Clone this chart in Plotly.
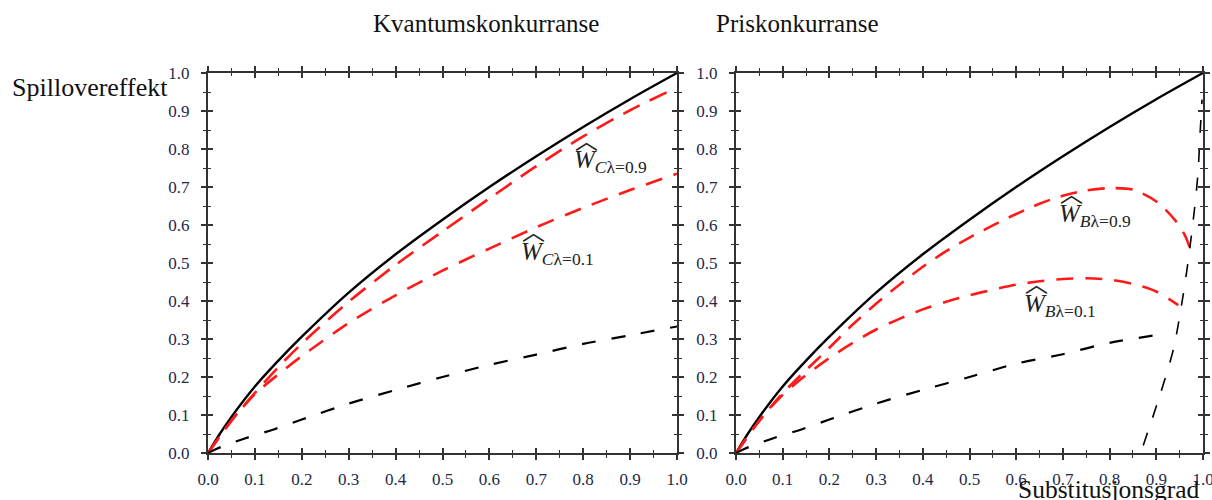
import plotly.graph_objects as go

# Substitution degree grid (x) and spillover effect (y) for each curve
full_x = [0.0, 0.025, 0.05, 0.1, 0.15, 0.2, 0.3, 0.4, 0.5, 0.6, 0.7, 0.8, 0.9, 1.0]
full_y = [0.0, 0.05, 0.095, 0.175, 0.243, 0.306, 0.422, 0.523, 0.614, 0.70, 0.781, 0.858, 0.931, 1.0]

cournot_09_x = [0.0, 0.05, 0.1, 0.15, 0.2, 0.3, 0.4, 0.5, 0.6, 0.7, 0.8, 0.9, 1.0]
cournot_09_y = [0.0, 0.085, 0.158, 0.226, 0.288, 0.398, 0.495, 0.583, 0.67, 0.755, 0.833, 0.902, 0.962]

cournot_01_x = [0.0, 0.05, 0.1, 0.15, 0.2, 0.3, 0.4, 0.5, 0.6, 0.7, 0.8, 0.9, 1.0]
cournot_01_y = [0.0, 0.085, 0.155, 0.207, 0.255, 0.342, 0.415, 0.48, 0.538, 0.594, 0.645, 0.692, 0.735]

base_c_x = [0.0, 0.02, 0.08, 0.14, 0.2, 0.3, 0.4, 0.5, 0.6, 0.7, 0.8, 0.9, 1.0]
base_c_y = [0.0, 0.012, 0.039, 0.062, 0.088, 0.13, 0.166, 0.2, 0.232, 0.259, 0.287, 0.31, 0.333]

bertrand_09_x = [0.0, 0.05, 0.1, 0.15, 0.2, 0.25, 0.3, 0.35, 0.4, 0.45, 0.5, 0.55, 0.6,
                 0.65, 0.7, 0.75, 0.8, 0.85, 0.9, 0.94, 0.96, 0.972]
bertrand_09_y = [0.0, 0.085, 0.157, 0.218, 0.277, 0.338, 0.393, 0.443, 0.49, 0.531, 0.567,
                 0.599, 0.629, 0.656, 0.677, 0.691, 0.697, 0.693, 0.662, 0.613, 0.576, 0.54]

bertrand_01_x = [0.0, 0.05, 0.1, 0.15, 0.2, 0.25, 0.3, 0.35, 0.4, 0.45, 0.5, 0.55, 0.6,
                 0.65, 0.7, 0.75, 0.8, 0.85, 0.9, 0.947]
bertrand_01_y = [0.0, 0.085, 0.153, 0.205, 0.25, 0.29, 0.325, 0.353, 0.378, 0.398, 0.415,
                 0.43, 0.443, 0.452, 0.458, 0.46, 0.456, 0.445, 0.425, 0.389]

base_b_x = [0.0, 0.02, 0.08, 0.14, 0.2, 0.3, 0.4, 0.5, 0.6, 0.7, 0.8, 0.91]
base_b_y = [0.0, 0.012, 0.039, 0.062, 0.088, 0.13, 0.166, 0.2, 0.235, 0.26, 0.29, 0.312]

steep_x = [0.872, 0.908, 0.937, 0.954, 0.968, 0.982, 0.989, 0.994, 0.998]
steep_y = [0.02, 0.153, 0.275, 0.389, 0.503, 0.644, 0.732, 0.846, 0.93]

tick_vals = [0.0, 0.1, 0.2, 0.3, 0.4, 0.5, 0.6, 0.7, 0.8, 0.9, 1.0]
tick_text = ["0.0", "0.1", "0.2", "0.3", "0.4", "0.5", "0.6", "0.7", "0.8", "0.9", "1.0"]

W, H = 1212, 500
RED = "#ff1a1a"
AX = "#333333"
SERIF = "Liberation Serif, Times New Roman, serif"
TICKFONT = dict(family=SERIF, size=17, color="#22294a")

fig = go.Figure()


def curve(x, y, axes, color, width, dash):
    fig.add_trace(go.Scatter(
        x=x, y=y, xaxis=axes[0], yaxis=axes[1], mode="lines",
        line=dict(color=color, width=width, dash=dash, shape="spline", smoothing=0.8),
        hoverinfo="skip", showlegend=False,
    ))


# Quantity competition panel
curve(full_x, full_y, ("x", "y"), "black", 2.4, "solid")
curve(cournot_09_x, cournot_09_y, ("x", "y"), RED, 2.6, "19px,11px")
curve(cournot_01_x, cournot_01_y, ("x", "y"), RED, 2.6, "17px,12px")
curve(base_c_x, base_c_y, ("x", "y"), "black", 2.2, "14px,16px")

# Price competition panel
curve(full_x, full_y, ("x2", "y2"), "black", 2.4, "solid")
curve(bertrand_09_x, bertrand_09_y, ("x2", "y2"), RED, 2.6, "17px,11px")
curve(bertrand_01_x, bertrand_01_y, ("x2", "y2"), RED, 2.6, "17px,12px")
curve(base_b_x, base_b_y, ("x2", "y2"), "black", 2.2, "14px,16px")
curve(steep_x, steep_y, ("x2", "y2"), "black", 1.6, "13px,16px")

# Empty traces so the overlay axes (inward tick halves) get drawn
for xa, ya in (("x3", "y3"), ("x4", "y4")):
    fig.add_trace(go.Scatter(x=[], y=[], xaxis=xa, yaxis=ya, showlegend=False,
                             hoverinfo="skip"))

x_dom_l = [208 / W, 677 / W]
x_dom_r = [736 / W, 1203 / W]
y_dom = [1 - 453 / H, 1 - 73 / H]


def main_axis(domain, anchor, is_x):
    return dict(
        domain=domain, anchor=anchor, range=[0, 1], autorange=False, automargin=False,
        tickmode="array", tickvals=tick_vals, ticktext=tick_text,
        ticks="outside", ticklen=5, tickwidth=1.6, tickcolor=AX,
        minor=dict(ticks="outside", dtick=0.05, ticklen=3, tickwidth=1.4, tickcolor=AX,
                   showgrid=False),
        showline=True, linewidth=2, linecolor=AX, mirror="ticks",
        showgrid=False, zeroline=False, tickfont=TICKFONT,
        ticklabelstandoff=5 if is_x else 8, ticklabeloverflow="allow",
        fixedrange=True,
    )


def inner_axis(overlay, anchor):
    return dict(
        overlaying=overlay, anchor=anchor, range=[0, 1], autorange=False, automargin=False,
        tickmode="array", tickvals=tick_vals,
        ticks="inside", ticklen=5, tickwidth=1.6, tickcolor=AX,
        minor=dict(ticks="inside", dtick=0.05, ticklen=3, tickwidth=1.4, tickcolor=AX,
                   showgrid=False),
        showline=False, mirror="ticks", showticklabels=False,
        showgrid=False, zeroline=False, fixedrange=True,
    )


fig.update_layout(
    template="none",
    width=W, height=H,
    margin=dict(l=0, r=0, t=0, b=0, autoexpand=False),
    paper_bgcolor="white", plot_bgcolor="white",
    showlegend=False,
    xaxis=main_axis(x_dom_l, "y", True),
    yaxis=main_axis(y_dom, "x", False),
    xaxis2=main_axis(x_dom_r, "y2", True),
    yaxis2=main_axis(y_dom, "x2", False),
    xaxis3=inner_axis("x", "y3"),
    yaxis3=inner_axis("y", "x3"),
    xaxis4=inner_axis("x2", "y4"),
    yaxis4=inner_axis("y2", "x4"),
)

annotations = [
    dict(text="Kvantumskonkurranse", x=371 / W, y=1 - 23 / H, xref="paper", yref="paper",
         yanchor="middle", showarrow=False, font=dict(family=SERIF, size=25, color="#111111")),
    dict(text="Priskonkurranse", x=880 / W, y=1 - 23 / H, xref="paper", yref="paper",
         yanchor="middle", showarrow=False, font=dict(family=SERIF, size=25, color="#111111")),
    dict(text="Spillovereffekt", x=10 / W, y=1 - 88 / H, xref="paper", yref="paper",
         xanchor="left", yanchor="middle", showarrow=False,
         font=dict(family=SERIF, size=26, color="#111111")),
    dict(text="Substitusjonsgrad", x=1202 / W, y=1 - 489 / H, xref="paper", yref="paper",
         xanchor="right", yanchor="middle", showarrow=False,
         font=dict(family=SERIF, size=25.5, color="#111111")),
]

# Curve labels: italic W with a wide hat and a subscript
labels = [
    ("x", "y", 0.776, 0.766, "C"),
    ("x", "y", 0.663, 0.526, "C"),
    ("x2", "y2", 0.687, 0.626, "B"),
    ("x2", "y2", 0.612, 0.389, "B"),
]
lams = ["0.9", "0.1", "0.9", "0.1"]
for (xr, yr, lx, ly, letter), lam in zip(labels, lams):
    annotations.append(dict(
        text=f"<i>W</i><sub><i>{letter}</i>λ=<span>{lam}</span></sub>",
        x=lx, y=ly, xref=xr, yref=yr, xanchor="left", yanchor="middle",
        showarrow=False, font=dict(family=SERIF, size=25, color="#222222"),
    ))
    annotations.append(dict(
        text="︿", x=lx, y=ly, xref=xr, yref=yr, xanchor="left", yanchor="middle",
        xshift=1, yshift=23, showarrow=False,
        font=dict(family="Noto Sans CJK JP", size=23, color="#222222"),
    ))

fig.update_layout(annotations=annotations)

fig.write_html("out.html")
